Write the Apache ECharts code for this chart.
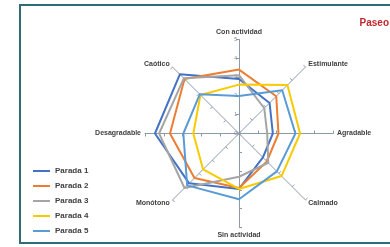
<!DOCTYPE html>
<html><head><meta charset="utf-8">
<script src="https://cdn.jsdelivr.net/npm/echarts@6/dist/echarts.min.js"></script>
<style>
html,body{margin:0;padding:0;background:#fff;}
#c{width:390px;height:247px;position:relative;}
#frame{position:absolute;left:19px;top:4px;width:400px;height:240px;border:2px solid #2F6D75;pointer-events:none;box-sizing:border-box;}
</style></head>
<body>
<div id="c"></div>
<div id="frame"></div>
<script>
// Indicators in ECharts order (counter-clockwise from top)
const indicators = ['Con actividad','Caótico','Desagradable','Monótono','Sin actividad','Calmado','Agradable','Estimulante'];
const seriesNames = ['Parada 1','Parada 2','Parada 3','Parada 4','Parada 5'];
const parada1 = [2.9, 4.45, 4.47, 3.75, 2.95, 1.8, 1.8, 2.3];
const parada2 = [3.4, 4.1, 3.67, 3.35, 2.9, 2.1, 2.1, 2.8];
const parada3 = [3.1, 4.15, 4.25, 4.1, 2.3, 2.2, 1.5, 1.9];
const parada4 = [2.6, 2.9, 2.43, 2.7, 2.95, 3.2, 3.25, 3.64];
const parada5 = [2.0, 2.95, 2.96, 3.9, 3.5, 2.85, 3.0, 3.25];
const scaleMax = 5;
const colors = ['#4472C4','#ED7D31','#A5A5A5','#F7CB00','#5B9BD5'];

const values = [parada1, parada2, parada3, parada4, parada5];
const chart = echarts.init(document.getElementById('c'));
const axisColor = '#8D9AAA';
chart.setOption({
  animation: false,
  title: {
    text: 'Paseo', right: -4, top: 13,
    textStyle: {fontFamily: 'Liberation Sans', fontSize: 10, fontWeight: 'bold', color: '#C0282D'}
  },
  legend: {
    orient: 'vertical', left: 28, top: 161, itemGap: 5,
    itemWidth: 17, itemHeight: 2, icon: 'rect',
    data: seriesNames,
    textStyle: {fontFamily: 'Liberation Sans', fontSize: 8, fontWeight: 'bold', color: '#404040', lineHeight: 10}
  },
  radar: [{
    center: [239, 133.5], radius: 94, startAngle: 90,
    shape: 'polygon', splitNumber: 5,
    indicator: indicators.map(n => ({name: n, min: 0, max: scaleMax})),
    axisName: {fontFamily: 'Liberation Sans', fontSize: 7, fontWeight: 'bold', color: '#404040'},
    nameGap: 4,
    axisLine: {show: true, lineStyle: {color: axisColor, width: 1}},
    axisTick: {show: true, length: 3, lineStyle: {color: axisColor}},
    splitLine: {show: false},
    splitArea: {show: false}
  }, {
    center: [239, 133.5], radius: 94, startAngle: 90,
    splitNumber: 5,
    indicator: [{name: '', min: 0, max: scaleMax}],
    axisName: {show: false},
    axisLine: {show: false}, axisTick: {show: false},
    splitLine: {show: false}, splitArea: {show: false},
    axisLabel: {show: true, fontSize: 5, color: '#7F7F7F', margin: 2, fontFamily: 'Liberation Sans'}
  }],
  series: [{
    type: 'radar', radarIndex: 0, symbol: 'none',
    data: seriesNames.map((n, i) => ({
      name: n, value: values[i],
      lineStyle: {color: colors[i], width: 2},
      itemStyle: {color: colors[i]}
    }))
  }]
});
</script>
</body></html>
